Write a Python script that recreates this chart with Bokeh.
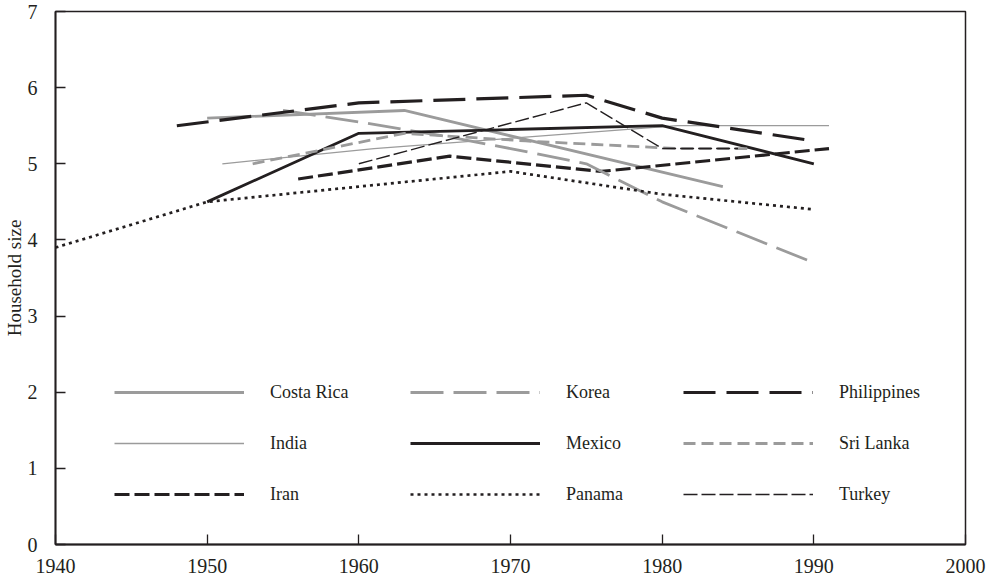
from bokeh.plotting import figure
from bokeh.models import Range1d, FixedTicker, Legend, LegendItem
from bokeh.embed import file_html
from bokeh.resources import INLINE

# ---- data ----
years_costa_rica = [1950, 1963, 1984]
costa_rica = [5.6, 5.7, 4.7]

years_india = [1951, 1961, 1971, 1981, 1991]
india = [5.0, 5.2, 5.35, 5.5, 5.5]

years_iran = [1956, 1966, 1976, 1991]
iran = [4.8, 5.1, 4.9, 5.2]

years_korea = [1955, 1960, 1966, 1970, 1975, 1980, 1985, 1990]
korea = [5.7, 5.55, 5.35, 5.2, 5.0, 4.5, 4.1, 3.7]

years_mexico = [1950, 1960, 1970, 1980, 1990]
mexico = [4.5, 5.4, 5.45, 5.5, 5.0]

years_panama = [1940, 1950, 1960, 1970, 1980, 1990]
panama = [3.9, 4.5, 4.7, 4.9, 4.6, 4.4]

years_philippines = [1948, 1960, 1975, 1980, 1990]
philippines = [5.5, 5.8, 5.9, 5.6, 5.3]

years_sri_lanka = [1953, 1963, 1971, 1981, 1986]
sri_lanka = [5.0, 5.4, 5.3, 5.2, 5.2]

years_turkey = [1960, 1975, 1980, 1985]
turkey = [5.0, 5.8, 5.2, 5.2]

x_ticks = [1940, 1950, 1960, 1970, 1980, 1990, 2000]
y_ticks = [0, 1, 2, 3, 4, 5, 6, 7]

GRAY = "#9b9b9b"
BLACK = "#231f20"
FONT = "Liberation Serif"

p = figure(width=987, height=582,
           x_range=Range1d(1940, 2000), y_range=Range1d(0, 7),
           output_backend="svg", toolbar_location=None,
           min_border_left=55, min_border_right=22,
           min_border_top=11, min_border_bottom=38)
p.background_fill_color = "white"
p.border_fill_color = "white"
p.grid.visible = False
p.outline_line_color = BLACK
p.outline_line_width = 1.5

for ax in (p.xaxis[0], p.yaxis[0]):
    ax.axis_line_color = BLACK
    ax.axis_line_width = 1.8
    ax.major_tick_in = 10
    ax.major_tick_out = 0
    ax.major_tick_line_color = BLACK
    ax.major_tick_line_width = 1.3
    ax.minor_tick_line_color = None
    ax.major_label_text_font = FONT
    ax.major_label_text_font_size = "20px"
    ax.major_label_text_color = BLACK

p.xaxis.ticker = FixedTicker(ticks=x_ticks)
p.yaxis.ticker = FixedTicker(ticks=y_ticks)
p.xaxis.major_label_standoff = 14
p.yaxis.major_label_standoff = 18
p.yaxis.axis_label = "Household size"
p.yaxis.axis_label_text_font = FONT
p.yaxis.axis_label_text_font_size = "19px"
p.yaxis.axis_label_text_font_style = "normal"
p.yaxis.axis_label_text_color = BLACK
p.yaxis.axis_label_standoff = 0

r_cr = p.line(years_costa_rica, costa_rica, line_color=GRAY, line_width=2.8)
r_in = p.line(years_india, india, line_color=GRAY, line_width=1.3)
r_ir = p.line(years_iran, iran, line_color=BLACK, line_width=3.2, line_dash="15 5")
r_ko = p.line(years_korea, korea, line_color=GRAY, line_width=2.8, line_dash="33 10")
r_me = p.line(years_mexico, mexico, line_color=BLACK, line_width=2.8)
r_pa = p.line(years_panama, panama, line_color=BLACK, line_width=2.7, line_dash="3 4")
r_ph = p.line(years_philippines, philippines, line_color=BLACK, line_width=3.2, line_dash="32 11")
r_sl = p.line(years_sri_lanka, sri_lanka, line_color=GRAY, line_width=2.8, line_dash="12 6")
r_tu = p.line(years_turkey, turkey, line_color=BLACK, line_width=1.4, line_dash="14 4")


def make_legend(entries, loc):
    leg = Legend(items=[LegendItem(label=l, renderers=[r]) for l, r in entries],
                 location=loc, orientation="vertical",
                 glyph_width=130, glyph_height=24, label_height=24,
                 label_standoff=26, spacing=27, padding=0, margin=0,
                 border_line_color=None, background_fill_alpha=0,
                 label_text_font=FONT, label_text_font_size="18px",
                 label_text_color=BLACK)
    p.add_layout(leg)


make_legend([("Costa Rica", r_cr), ("India", r_in), ("Iran", r_ir)], (59, 38))
make_legend([("Korea", r_ko), ("Mexico", r_me), ("Panama", r_pa)], (355, 38))
make_legend([("Philippines", r_ph), ("Sri Lanka", r_sl), ("Turkey", r_tu)], (628, 38))

open("out.html", "w").write(file_html(p, INLINE))
